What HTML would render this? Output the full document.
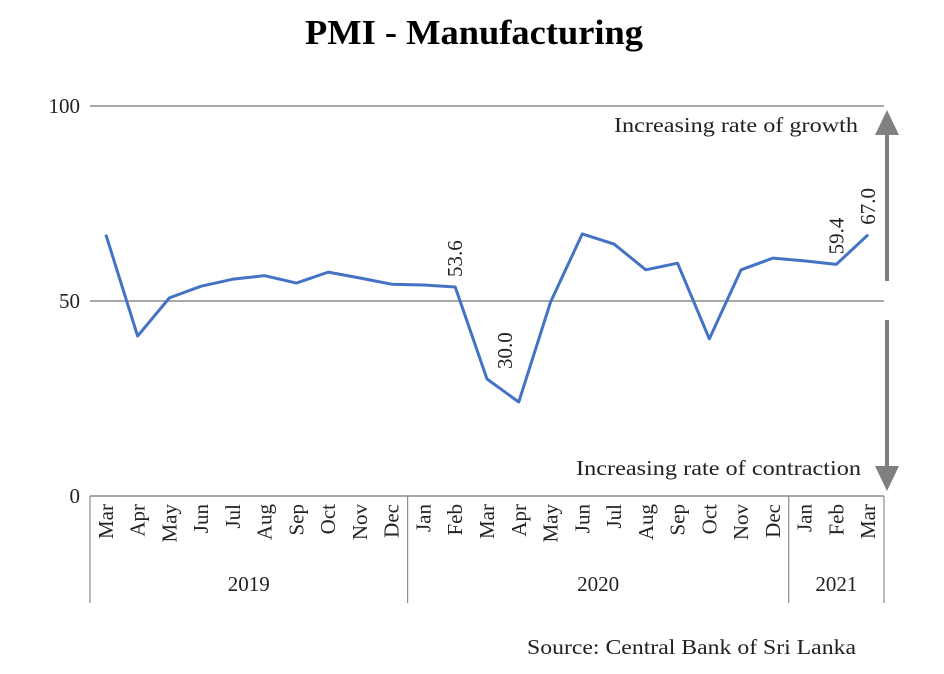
<!DOCTYPE html>
<html><head><meta charset="utf-8">
<style>
body{margin:0;background:#fff;}
svg text{font-family:"Liberation Serif",serif;fill:#222;}
</style></head>
<body>
<svg id="chart" width="944" height="669" xmlns="http://www.w3.org/2000/svg">
<text x="305" y="44" textLength="338" lengthAdjust="spacingAndGlyphs" font-size="35" font-weight="bold" style="fill:#000">PMI - Manufacturing</text>
<g id="grid"></g>
<g id="xaxis"></g>
<g id="series"></g>
<g id="labels"></g>
<g>
<line x1="887" y1="134" x2="887" y2="281" stroke="#808080" stroke-width="4"/>
<polygon points="887,110 875,135 899,135" fill="#808080"/>
</g>
<g>
<line x1="887" y1="320" x2="887" y2="468" stroke="#808080" stroke-width="4"/>
<polygon points="887,491 875,466 899,466" fill="#808080"/>
</g>
<text x="614" y="132" textLength="244" lengthAdjust="spacingAndGlyphs" font-size="21">Increasing rate of growth</text>
<text x="576" y="475" textLength="285" lengthAdjust="spacingAndGlyphs" font-size="21">Increasing rate of contraction</text>
<text x="527" y="654" textLength="329" lengthAdjust="spacingAndGlyphs" font-size="21">Source: Central Bank of Sri Lanka</text>
</svg>
<script>
const months = ["Mar","Apr","May","Jun","Jul","Aug","Sep","Oct","Nov","Dec","Jan","Feb","Mar","Apr","May","Jun","Jul","Aug","Sep","Oct","Nov","Dec","Jan","Feb","Mar"];
const values = [67.0,41.0,50.8,53.8,55.6,56.5,54.6,57.4,55.9,54.3,54.1,53.6,30.0,24.1,49.7,67.2,64.6,58.0,59.7,40.3,58.0,61.0,60.3,59.4,67.0];
const years = ["2019","2020","2021"];
const yearSpans = [10,12,3];
const yTicks = [0,50,100];
const labelled = [11,12,23,24];

const NS="http://www.w3.org/2000/svg";
const left=90, right=884, top0=106, bottom=496;
const bw=(right-left)/months.length;
const x=i=>left+bw*(i+0.5);
const y=v=>bottom-(v/100)*(bottom-top0);
function mk(tag,attrs,parent,text){const e=document.createElementNS(NS,tag);for(const k in attrs)e.setAttribute(k,attrs[k]);if(text!==undefined)e.textContent=text;parent.appendChild(e);return e;}
const grid=document.getElementById('grid'),xa=document.getElementById('xaxis'),ser=document.getElementById('series'),lab=document.getElementById('labels');

yTicks.forEach(t=>{
  if(t>0){const l=mk('line',{x1:left,x2:right,y1:y(t),y2:y(t),stroke:'#8c8c8c','stroke-width':1.5},grid);
  
  }
  const tx=mk('text',{x:80,y:y(t)+7,'text-anchor':'end','font-size':21},grid,String(t));
  
  
});
const ax=mk('line',{x1:left,x2:right,y1:bottom,y2:bottom,stroke:'#8c8c8c','stroke-width':1.5},xa);



let idx=0;
const seps=[0];
yearSpans.forEach(s=>{idx+=s;seps.push(idx);});
seps.forEach(s=>{
  const l=mk('line',{x1:left+bw*s,x2:left+bw*s,y1:bottom,y2:603,stroke:'#8c8c8c','stroke-width':1.2},xa);
  
  
});
years.forEach((yr,i)=>{
  const cx=left+bw*(seps[i]+seps[i+1])/2;
  const t=mk('text',{x:cx,y:591,'text-anchor':'middle','font-size':21},xa,yr);
  
  
});
months.forEach((m,i)=>{
  const t=mk('text',{x:0,y:0,'text-anchor':'end','font-size':21,transform:`translate(${x(i)+7},${bottom+8}) rotate(-90)`},xa,m);
  
  
});
const pts=values.map((v,i)=>x(i)+','+y(v)).join(' ');
const pl=mk('polyline',{points:pts,fill:'none',stroke:'#4472c4','stroke-width':3,'stroke-linejoin':'round'},ser);


labelled.forEach(i=>{
  const dx = values[i] < values[i-1]-10 ? 25 : 7;
  const t=mk('text',{x:0,y:0,'font-size':21,transform:`translate(${x(i)+dx},${y(values[i])-10}) rotate(-90)`},lab,values[i].toFixed(1));
  
  
});
</script>
</body></html>
